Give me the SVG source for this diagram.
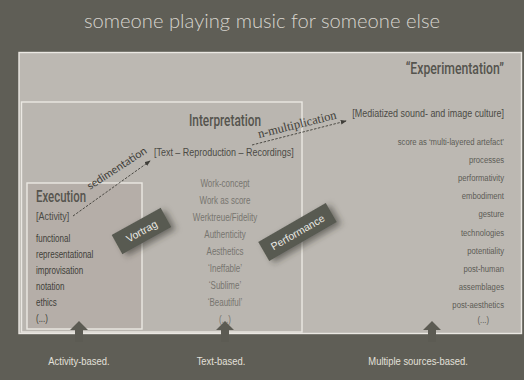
<svg xmlns="http://www.w3.org/2000/svg" width="524" height="380" viewBox="0 0 524 380">
<defs>
<style>
.hd{font-family:Roboto,"Liberation Sans",sans-serif;font-weight:500;fill:#55544e}
.it{font-family:"Liberation Sans",Arial,sans-serif;font-size:10px}
.ex{fill:#3f3e39}
.ip{fill:#77756f;text-anchor:middle}
.xp{fill:#5d5c56;text-anchor:end;font-size:9.6px}
.br{font-family:"Liberation Sans",Arial,sans-serif;font-size:11.2px;fill:#4b4a45}
.lbl{font-family:"Liberation Sans",Arial,sans-serif;font-size:11.5px;fill:#e3e0da;text-anchor:middle}
.tag{fill:#585a51}
.tagt{font-family:"Liberation Sans",Arial,sans-serif;font-size:10.5px;fill:#ecebe6;text-anchor:middle}
.box{stroke:#ebe8e3;stroke-width:1.4}
.conn{stroke:#3f3e39;stroke-width:0.9;stroke-dasharray:2.5 1.5;fill:none}
.up{fill:#5c5b53}
</style>
<marker id="ah" viewBox="0 0 8 6" refX="7" refY="3" markerWidth="6" markerHeight="5" orient="auto" markerUnits="userSpaceOnUse">
<path d="M0,0 L8,3 L0,6 z" fill="#3f3e39"/>
</marker>
<filter id="sh" x="-40%" y="-60%" width="180%" height="220%">
<feDropShadow dx="3" dy="4" stdDeviation="3" flood-color="#2e2d28" flood-opacity="0.55"/>
</filter>
</defs>
<rect x="0" y="0" width="524" height="380" fill="#5f5e56"/>
<text x="262" y="28" text-anchor="middle" font-family="Lato,'Open Sans',sans-serif" font-weight="300" font-size="20" fill="#d8d5ce" textLength="356" lengthAdjust="spacingAndGlyphs">someone playing music for someone else</text>

<g id="experimentation">
<rect class="box" x="19" y="52.5" width="502.5" height="281" fill="#bcb8b2"/>
<text class="hd" x="700" y="74" font-size="17" text-anchor="end" transform="scale(0.72,1)">“Experimentation”</text>
<g transform="scale(0.8,1)">
<text class="br" x="630" y="117" text-anchor="end">[Mediatized sound- and image culture]</text>
<g class="it xp">
<text x="630" y="145">score as ‘multi-layered artefact’</text>
<text x="630" y="163">processes</text>
<text x="630" y="181">performativity</text>
<text x="630" y="199">embodiment</text>
<text x="630" y="217">gesture</text>
<text x="630" y="236">technologies</text>
<text x="630" y="254">potentiality</text>
<text x="630" y="272">post-human</text>
<text x="630" y="290">assemblages</text>
<text x="630" y="308">post-aesthetics</text>
<text x="604" y="323" text-anchor="middle">(...)</text>
</g>
</g>
</g>

<g id="interpretation">
<rect class="box" x="21.5" y="102" width="280.5" height="230" fill="#bab6b0"/>
<text class="hd" x="189" y="126" font-size="16" textLength="72" lengthAdjust="spacingAndGlyphs">Interpretation</text>
<g transform="scale(0.8,1)">
<text class="br" x="192.5" y="156">[Text – Reproduction – Recordings]</text>
<g class="it ip">
<text x="281.25" y="187">Work-concept</text>
<text x="281.25" y="204">Work as score</text>
<text x="281.25" y="221">Werktreue/Fidelity</text>
<text x="281.25" y="238">Authenticity</text>
<text x="281.25" y="255">Aesthetics</text>
<text x="281.25" y="272">‘Ineffable’</text>
<text x="281.25" y="289">‘Sublime’</text>
<text x="281.25" y="306">‘Beautiful’</text>
<text x="281.25" y="323">(...)</text>
</g>
</g>
</g>

<g id="execution">
<rect class="box" x="27" y="183" width="115" height="146" fill="#b5aea8"/>
<text class="hd" x="36" y="202" font-size="16" textLength="50" lengthAdjust="spacingAndGlyphs">Execution</text>
<g transform="scale(0.8,1)">
<text class="br" x="45" y="220" fill="#3f3e39">[Activity]</text>
<g class="it ex">
<text x="45" y="242">functional</text>
<text x="45" y="258">representational</text>
<text x="45" y="274">improvisation</text>
<text x="45" y="290">notation</text>
<text x="45" y="306">ethics</text>
<text x="45" y="322">(...)</text>
</g>
</g>
</g>

<g id="connectors">
<line class="conn" x1="73" y1="216" x2="150" y2="161" marker-end="url(#ah)"/>
<text x="0" y="0" transform="translate(90,190) rotate(-33)" font-family="Lato,'Open Sans',sans-serif" font-size="11" fill="#3f3e39">sedimentation</text>
<line class="conn" x1="252" y1="145" x2="346" y2="121" marker-end="url(#ah)"/>
<text x="0" y="0" transform="translate(259,138) rotate(-14)" font-family="'Liberation Serif',serif" font-size="12.5" fill="#3f3e39">n-multiplication</text>
</g>

<g id="vortrag" transform="translate(141.5,231) rotate(-29)">
<rect class="tag" x="-28" y="-11" width="56" height="22" filter="url(#sh)"/>
<text class="tagt" x="0" y="4">Vortrag</text>
</g>

<g id="performance" transform="translate(297.5,232) rotate(-30)">
<rect class="tag" x="-39" y="-11" width="78" height="22" filter="url(#sh)"/>
<text class="tagt" x="0" y="4">Performance</text>
</g>

<g id="arrows">
<path class="up" d="M79,321 L88,330 L83,330 L83,342 L75,342 L75,330 L70,330 z"/>
<path class="up" d="M225,321 L234,330 L229,330 L229,342 L221,342 L221,330 L216,330 z"/>
<path class="up" d="M432,321 L441,330 L436,330 L436,342 L428,342 L428,330 L423,330 z"/>
</g>

<g id="labels" transform="scale(0.82,1)">
<text class="lbl" x="96.3" y="365">Activity-based.</text>
<text class="lbl" x="269.5" y="365">Text-based.</text>
<text class="lbl" x="509.8" y="365">Multiple sources-based.</text>
</g>
</svg>
